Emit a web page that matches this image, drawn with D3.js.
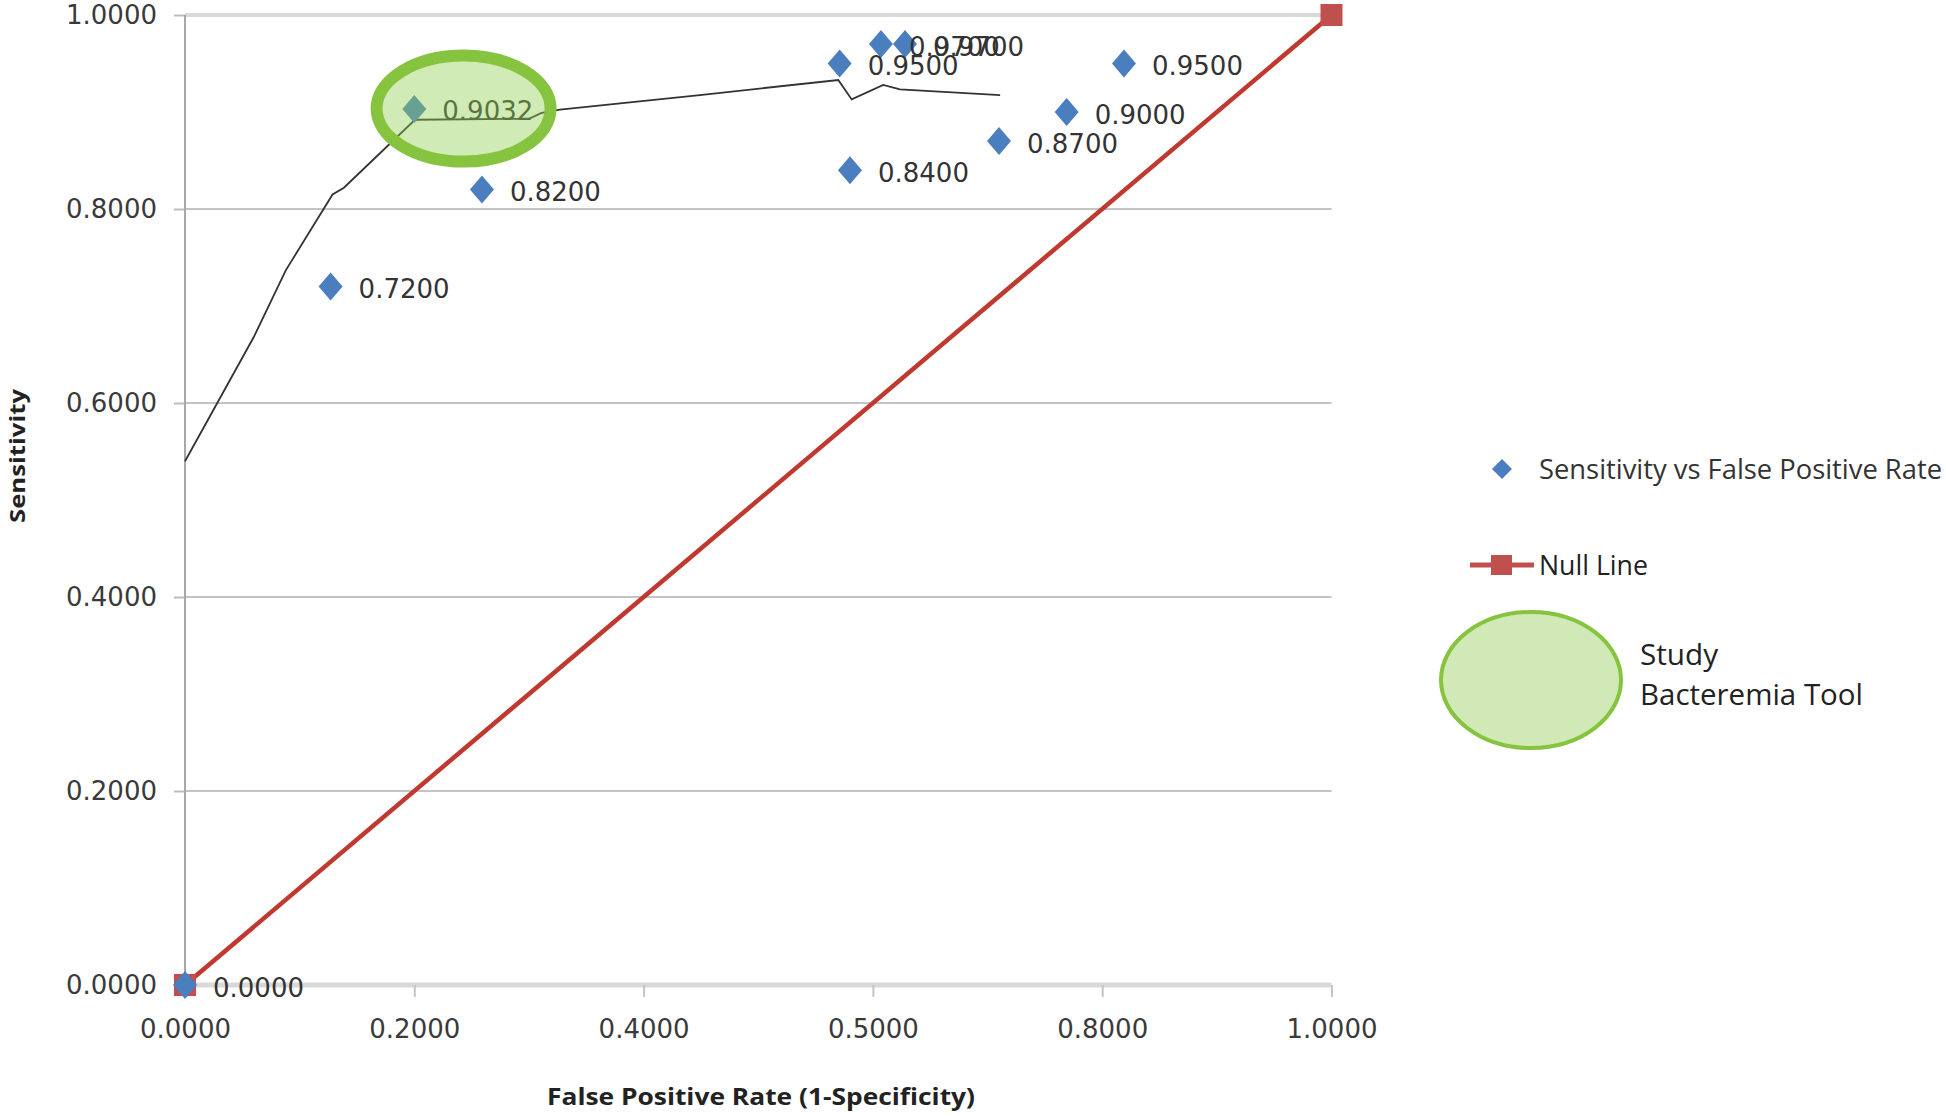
<!DOCTYPE html>
<html>
<head>
<meta charset="utf-8">
<script src="https://cdn.jsdelivr.net/npm/d3@7"></script>
<style>
  html, body { margin: 0; padding: 0; background: #fff; }
  svg { display: block; }
</style>
</head>
<body>
<script>
// ---- Data ----
const fprValues = [0, 0.127, 0.200, 0.259, 0.571, 0.580, 0.607, 0.628, 0.710, 0.769, 0.819];
const sensitivityValues = [0, 0.72, 0.9032, 0.82, 0.95, 0.84, 0.97, 0.97, 0.87, 0.90, 0.95];

const nullX = [0, 1];
const nullY = [0, 1];

// hand-drawn ROC-like curve
const curveX = [0, 0.060, 0.088, 0.1287, 0.1386, 0.2006, 0.300, 0.311, 0.327, 0.449, 0.5698, 0.5815, 0.609, 0.6236, 0.711];
const curveY = [0.540, 0.668, 0.737, 0.815, 0.822, 0.892, 0.893, 0.899, 0.9025, 0.9175, 0.933, 0.913, 0.928, 0.9234, 0.9175];

// study annotation (ellipse centre, data coords)
const studyCenter = [0.243, 0.9035];

const xTickValues = [0, 0.2, 0.4, 0.6, 0.8, 1.0];
const xTickLabels = ["0.0000", "0.2000", "0.4000", "0.5000", "0.8000", "1.0000"];
const yTickValues = [0, 0.2, 0.4, 0.6, 0.8, 1.0];
const yTickLabels = ["0.0000", "0.2000", "0.4000", "0.6000", "0.8000", "1.0000"];

const legendLabels = ["Sensitivity vs False Positive Rate", "Null Line", "Study", "Bacteremia Tool"];
const xTitle = "False Positive Rate (1-Specificity)";
const yTitle = "Sensitivity";

// ---- Layout ----
const W = 1946, H = 1116;
const x = d3.scaleLinear().domain([0, 1]).range([185, 1331.5]);
const y = d3.scaleLinear().domain([0, 1]).range([985, 15]);

const BLUE = "#4a7ebf", RED = "#c0504d", REDLINE = "#c0392f", GREEN = "#86c440", GREENFILL = "rgba(146,208,80,0.42)";
const NUMFONT = "'DejaVu Sans', sans-serif";
const TXTFONT = "'Open Sans', sans-serif";

const svg = d3.select("body").append("svg").attr("width", W).attr("height", H);
svg.append("rect").attr("width", W).attr("height", H).attr("fill", "#fff");

// gridlines
svg.append("g").selectAll("line").data(yTickValues.filter(v => v > 0)).join("line")
  .attr("x1", x(0)).attr("x2", x(1))
  .attr("y1", d => y(d)).attr("y2", d => y(d))
  .attr("stroke", d => d === 1 ? "#d9d9d9" : "#c4c4c4")
  .attr("stroke-width", d => d === 1 ? 4 : 2);

// y axis
const yAxis = svg.append("g").attr("transform", `translate(${x(0)},0)`)
  .call(d3.axisLeft(y).tickValues(yTickValues).tickFormat((d, i) => yTickLabels[i]).tickSize(11).tickPadding(17));
yAxis.select(".domain").remove();
yAxis.selectAll(".tick line").attr("stroke", "#bdbdbd").attr("stroke-width", 2);
yAxis.selectAll("text").attr("font-family", NUMFONT).attr("font-size", 26).attr("fill", "#3a3a3a");

// x axis
const xAxis = svg.append("g").attr("transform", `translate(0,${y(0)})`)
  .call(d3.axisBottom(x).tickValues(xTickValues).tickFormat((d, i) => xTickLabels[i]).tickSize(12).tickPadding(23));
xAxis.select(".domain").attr("stroke", "#d9d9d9").attr("stroke-width", 5).attr("d", `M${x(0)},0H${x(1)}`);
xAxis.selectAll(".tick line").attr("stroke", "#c4c4c4").attr("stroke-width", 2);
xAxis.selectAll("text").attr("font-family", NUMFONT).attr("font-size", 26).attr("fill", "#3a3a3a");

// vertical axis line
svg.append("line").attr("x1", x(0)).attr("x2", x(0)).attr("y1", y(1)).attr("y2", y(0))
  .attr("stroke", "#a8a8a8").attr("stroke-width", 2);

// null line
const nullData = nullX.map((v, i) => [v, nullY[i]]);
svg.append("path").datum(nullData)
  .attr("d", d3.line().x(d => x(d[0])).y(d => y(d[1])))
  .attr("stroke", REDLINE).attr("stroke-width", 4.5).attr("fill", "none");
svg.append("g").selectAll("rect").data(nullData).join("rect")
  .attr("x", d => x(d[0]) - 11).attr("y", d => y(d[1]) - 11)
  .attr("width", 22).attr("height", 22).attr("fill", RED);

// hand-drawn curve
const curveData = curveX.map((v, i) => [v, curveY[i]]);
svg.append("path").datum(curveData)
  .attr("d", d3.line().x(d => x(d[0])).y(d => y(d[1])))
  .attr("stroke", "#333").attr("stroke-width", 1.8).attr("fill", "none");

// points
const pts = fprValues.map((v, i) => ({ fx: v, s: sensitivityValues[i] }));
const diamond = (w, h) => `M0,${-h}L${w},0L0,${h}L${-w},0Z`;
svg.append("g").selectAll("path").data(pts).join("path")
  .attr("d", diamond(12, 14))
  .attr("transform", d => `translate(${x(d.fx)},${y(d.s)})`)
  .attr("fill", BLUE);

// data labels
const fmt = d3.format(".4f");
svg.append("g").selectAll("text").data(pts).join("text")
  .attr("x", d => x(d.fx) + 28).attr("y", d => y(d.s) + 4)
  .attr("dominant-baseline", "middle")
  .attr("font-family", NUMFONT).attr("font-size", 26).attr("fill", "#333")
  .text(d => fmt(d.s));

// study annotation ellipse
svg.append("ellipse")
  .attr("cx", x(studyCenter[0])).attr("cy", y(studyCenter[1]))
  .attr("rx", 87).attr("ry", 53)
  .attr("fill", GREENFILL).attr("stroke", GREEN).attr("stroke-width", 12);

// axis titles
svg.append("text")
  .attr("transform", `translate(25,456) rotate(-90)`)
  .attr("text-anchor", "middle")
  .attr("font-family", TXTFONT).attr("font-weight", "bold").attr("font-size", 22)
  .attr("textLength", 134).attr("lengthAdjust", "spacingAndGlyphs")
  .attr("fill", "#222").text(yTitle);
svg.append("text")
  .attr("x", 761).attr("y", 1105)
  .attr("text-anchor", "middle")
  .attr("font-family", TXTFONT).attr("font-weight", "bold").attr("font-size", 24)
  .attr("textLength", 428).attr("lengthAdjust", "spacingAndGlyphs")
  .attr("fill", "#222").text(xTitle);

// legend
const lg = svg.append("g");
lg.append("path").attr("d", diamond(10, 10)).attr("transform", "translate(1502,469)").attr("fill", BLUE);
lg.append("text").attr("x", 1539).attr("y", 479)
  .attr("font-family", TXTFONT).attr("font-size", 27).attr("fill", "#333")
  .attr("textLength", 403).attr("lengthAdjust", "spacingAndGlyphs")
  .text(legendLabels[0]);

lg.append("line").attr("x1", 1470).attr("x2", 1534).attr("y1", 565).attr("y2", 565)
  .attr("stroke", RED).attr("stroke-width", 5);
lg.append("rect").attr("x", 1491).attr("y", 555).attr("width", 21).attr("height", 20).attr("fill", RED);
lg.append("text").attr("x", 1539).attr("y", 575)
  .attr("font-family", TXTFONT).attr("font-size", 27).attr("fill", "#222")
  .attr("textLength", 109).attr("lengthAdjust", "spacingAndGlyphs")
  .text(legendLabels[1]);

lg.append("ellipse").attr("cx", 1531).attr("cy", 680).attr("rx", 90).attr("ry", 68)
  .attr("fill", "#d1e9b7").attr("stroke", GREEN).attr("stroke-width", 4);
lg.append("text").attr("x", 1640).attr("y", 665)
  .attr("font-family", TXTFONT).attr("font-size", 29).attr("fill", "#222")
  .attr("textLength", 78).attr("lengthAdjust", "spacingAndGlyphs")
  .text(legendLabels[2]);
lg.append("text").attr("x", 1640).attr("y", 705)
  .attr("font-family", TXTFONT).attr("font-size", 29).attr("fill", "#222")
  .attr("textLength", 223).attr("lengthAdjust", "spacingAndGlyphs")
  .text(legendLabels[3]);
</script>
</body>
</html>
